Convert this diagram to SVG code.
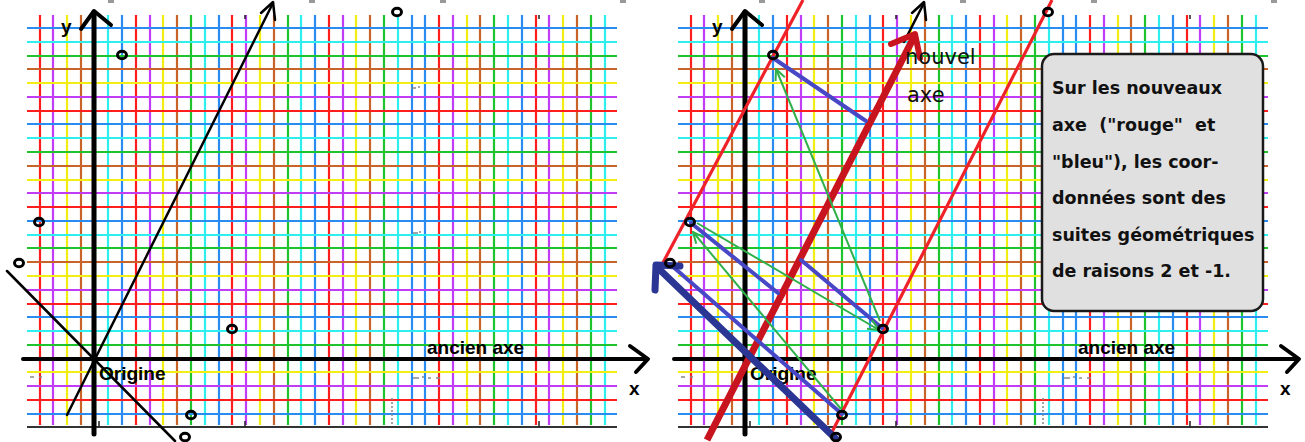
<svg xmlns="http://www.w3.org/2000/svg" width="1305" height="442" viewBox="0 0 1305 442">
<style>
.g{fill:none;stroke-width:2.2}
.r{stroke:#ff1e1e}.p{stroke:#c03cf5}.yl{stroke:#f2ee14}.b{stroke:#c8642a}.gr{stroke:#1ec32d}.c{stroke:#2eeeee}.bl{stroke:#2a8cf0}
.ax{fill:none;stroke:#000;stroke-linecap:round;stroke-linejoin:round}
.lbl{font-family:"Liberation Sans",Arial,sans-serif;font-weight:bold;fill:#000}
.pt{fill:none;stroke:#000;stroke-width:3}
.hand{font-family:"DejaVu Sans",sans-serif;fill:#111}
.boxt{font-family:"DejaVu Sans",sans-serif;font-weight:bold;font-size:17.5px;fill:#111;white-space:pre}
.blu{fill:none;stroke:#4848c6;stroke-width:4;stroke-linecap:round}
.grn{fill:none;stroke:#2fb04a;stroke-width:2}
.art{fill:none;stroke:#888;stroke-width:1.5}
.tk{fill:none;stroke:#222;stroke-width:1.5}
</style>
<defs>
<marker id="ga" viewBox="0 0 14 14" refX="13" refY="7" markerWidth="14" markerHeight="14" markerUnits="userSpaceOnUse" orient="auto"><path d="M2 2L13 7L2 12" fill="none" stroke="#2fb04a" stroke-width="2"/></marker>
<g id="grid">
<path class="g r" d="M40 15V425M136 15V425M232 15V425M329 15V425M439 15V425M536 15V425"/>
<path class="g p" d="M53 15V425M150 15V425M246 15V425M343 15V425M453 15V425M549 15V425"/>
<path class="g yl" d="M67 15V425M163 15V425M260 15V425M356 15V425M467 15V425M563 15V425"/>
<path class="g b" d="M81 15V425M177 15V425M274 15V425M370 15V425M480 15V425M577 15V425"/>
<path class="g gr" d="M95 15V425M191 15V425M288 15V425M384 15V425M494 15V425M591 15V425"/>
<path class="g c" d="M108 15V425M205 15V425M301 15V425M398 15V425M508 15V425M605 15V425"/>
<path class="g bl" d="M122 15V425M219 15V425M315 15V425M412 15V425M425 15V425M522 15V425"/>
<path class="g r" d="M27 111H617M27 207H617M27 304H617M27 400H617"/>
<path class="g p" d="M27 97H617M27 193H617M27 290H617M27 386H617"/>
<path class="g yl" d="M27 83H617M27 180H617M27 276H617M27 372H617"/>
<path class="g b" d="M27 69H617M27 166H617M27 262H617M27 359H617"/>
<path class="g gr" d="M27 56H617M27 152H617M27 248H617M27 345H617"/>
<path class="g c" d="M27 42H617M27 138H617M27 235H617M27 331H617"/>
<path class="g bl" d="M27 28H617M27 124H617M27 221H617M27 317H617M27 414H617"/>
<path d="M27 427H617" stroke="#333" stroke-width="2" fill="none"/>
<g fill="#999"><rect x="108" y="0" width="6" height="3"/><rect x="309" y="0" width="6" height="3"/><rect x="440" y="0" width="6" height="3"/><rect x="620" y="0" width="6" height="3"/></g>
<path class="tk" d="M245 15v4M539 15v4M99 421v6M245 421v6M539 421v6"/>
<path class="art" d="M411 88h5M418 87h2M413 233h5M419 232h2M413 378h6M422 377h2M428 378h3M436 378h4M30 377h4M39 377h3"/>
<path class="art" d="M392 398V425" stroke-dasharray="2 2"/>
</g>
<g id="base">
<path class="ax" stroke-width="5" d="M94 12V434"/>
<path class="ax" stroke-width="4" d="M81 29L94 11L111 25"/>
<path class="ax" stroke-width="4" d="M23 359H646"/>
<path class="ax" stroke-width="4" d="M630 346L648 359L636 372"/>
<path class="ax" stroke-width="2.5" d="M261 13L273 2L275 20"/>
<text class="lbl" x="61" y="33" font-size="19">y</text>
<text class="lbl" x="629" y="395" font-size="19">x</text>
<text class="lbl" x="427" y="354" font-size="19">ancien axe</text>
<text class="lbl" x="99" y="380" font-size="19">Origine</text>
</g>
<g id="pts">
<ellipse class="pt" cx="122" cy="55" rx="4.5" ry="3.8"/>
<ellipse class="pt" cx="39" cy="222" rx="4.5" ry="3.8"/>
<ellipse class="pt" cx="19" cy="263" rx="4.5" ry="3.8"/>
<ellipse class="pt" cx="232" cy="329" rx="4.5" ry="3.8"/>
<ellipse class="pt" cx="191" cy="415" rx="4.5" ry="3.8"/>
<ellipse class="pt" cx="185" cy="437" rx="4.5" ry="3.8"/>
<ellipse class="pt" cx="397" cy="12" rx="4.5" ry="3.8"/>
</g>
</defs>
<rect width="1305" height="442" fill="#fff"/>
<g id="left-panel">
<use href="#grid"/>
<use href="#base"/>
<path class="ax" stroke-width="2.5" d="M67 415L273 3"/>
<path class="ax" stroke-width="2.5" d="M7 271L175 441"/>
<use href="#pts"/>
</g>
<g id="right-panel">
<use href="#grid" x="651"/>
<use href="#base" x="651"/>
<g id="connectors">
<path class="ax" stroke-width="2.5" d="M904 42L924 3"/>
<path d="M803 0L658 272" fill="none" stroke="#ee2228" stroke-width="3.2"/>
<path d="M1052 0L832 432" fill="none" stroke="#ee2228" stroke-width="3.2"/>
<path d="M707 440L915 35" fill="none" stroke="#c8141e" stroke-width="7"/>
<path d="M891 44L915 34L920 58" fill="none" stroke="#c8141e" stroke-width="6" stroke-linecap="round" stroke-linejoin="round"/>
<path class="blu" d="M773 58L866 121"/>
<path class="blu" d="M691 223L778 293"/>
<path class="blu" d="M801 260L882 328"/>
<path class="blu" d="M671 265L842 414"/>
<path d="M836 439L659 269" fill="none" stroke="#2b3593" stroke-width="7" stroke-linecap="round"/>
<path d="M680 266L656 265L655 290" fill="none" stroke="#2b3593" stroke-width="7" stroke-linecap="round" stroke-linejoin="round"/>
<path class="grn" d="M841 409L693 232" marker-end="url(#ga)"/>
<path class="grn" d="M697 223L879 330" marker-end="url(#ga)"/>
<path class="grn" d="M880 321L776 69" marker-end="url(#ga)"/>
</g>
<use href="#pts" x="651"/>
<g id="label-nouvel-axe">
<text class="hand" x="905" y="64" font-size="21">nouvel</text>
<text class="hand" x="907" y="102" font-size="21">axe</text>
</g>
</g>
<g id="note-box">
<rect x="1042" y="54" width="221" height="257" rx="12" fill="#e0e0e0" stroke="#1a1a1a" stroke-width="2.5"/>
<text class="boxt" x="1052" y="94">Sur les nouveaux</text>
<text class="boxt" x="1052" y="131">axe  ("rouge"  et</text>
<text class="boxt" x="1052" y="168">"bleu"), les coor-</text>
<text class="boxt" x="1052" y="204">données sont des</text>
<text class="boxt" x="1052" y="241">suites géométriques</text>
<text class="boxt" x="1052" y="277">de raisons 2 et -1.</text>
</g>
</svg>
